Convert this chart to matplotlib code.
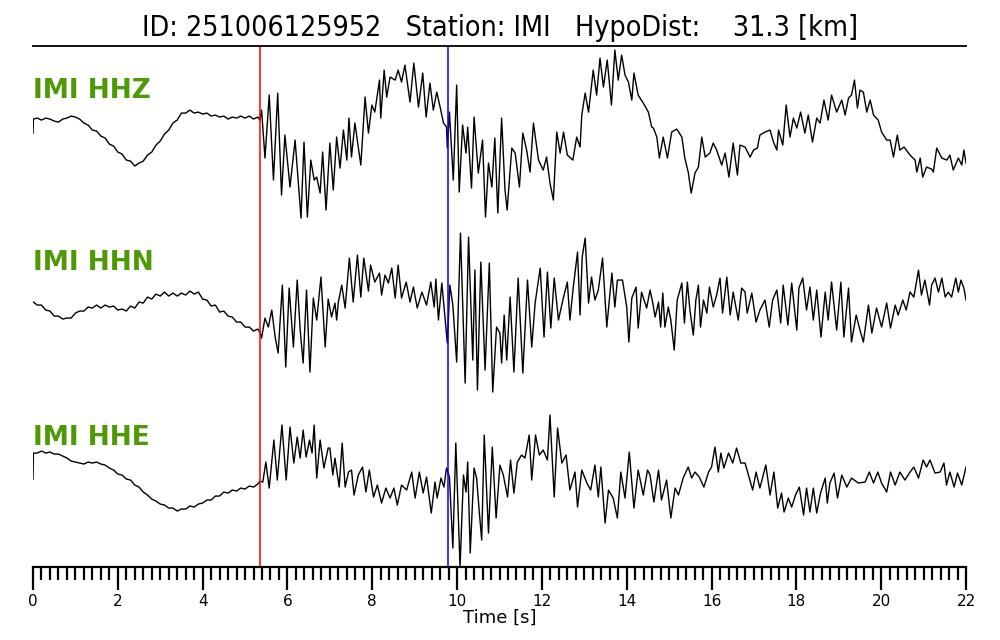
import numpy as np
import matplotlib
matplotlib.use("Agg")
import matplotlib.pyplot as plt

# ---------------- data ----------------
title_text = "ID: 251006125952   Station: IMI   HypoDist:    31.3 [km]"
channels = ["IMI HHZ", "IMI HHN", "IMI HHE"]
p_pick = 5.35
s_pick = 9.79

# pre-P segments, sampled every 0.1 s (amplitude, arbitrary counts)
pre_t = [0.0, 0.01] + [round(0.1 * k, 1) for k in range(1, 54)] + [5.35]
z_pre = [1, 15,
         16, 14, 16, 15, 13, 12, 15, 16, 18, 17,
         15, 11, 9, 4, 3, -2, -4, -10, -12, -18,
         -20, -26, -27, -32, -29, -27, -21, -18, -11, -7,
         0, 4, 11, 14, 21, 21, 24, 21, 22, 20,
         21, 18, 19, 17, 18, 15, 17, 16, 18, 16,
         18, 15, 17, 14]
n_pre = [10, 10,
         7, 7, 2, 1, -4, -4, -7, -6, -6, -1,
         1, 1, 5, 4, 7, 4, 7, 5, 6, 2,
         3, 1, 6, 4, 10, 9, 15, 13, 18, 16,
         20, 16, 19, 16, 19, 17, 21, 18, 20, 13,
         12, 6, 7, 0, 1, -4, -5, -10, -10, -15,
         -15, -19, -17, -20]
e_pre = [4, 30,
         30, 32, 30, 31, 29, 29, 27, 25, 22, 21,
         20, 19, 21, 20, 21, 19, 18, 15, 13, 9,
         8, 4, 3, -2, -4, -9, -12, -16, -18, -21,
         -22, -25, -25, -28, -26, -26, -23, -24, -21, -20,
         -17, -17, -13, -13, -9, -10, -7, -8, -5, -6,
         -3, -4, -1, 2]

# post-P segments: turning points (time s, amplitude)
z_post_t = [5.39, 5.47, 5.57, 5.67, 5.77, 5.86, 5.94, 6.06, 6.18, 6.32, 6.39, 6.47, 6.55, 6.63,
            6.69, 6.77, 6.83, 6.91,
            7.00, 7.08, 7.16, 7.24, 7.32, 7.40, 7.45, 7.51, 7.59, 7.73, 7.83, 7.91, 7.99, 8.06,
            8.17, 8.20, 8.28, 8.34, 8.42, 8.54, 8.61, 8.69, 8.77, 8.89, 8.98, 9.09, 9.19, 9.27,
            9.36, 9.44, 9.52, 9.60, 9.68, 9.75, 9.77, 9.82, 9.91, 9.99, 10.05, 10.13, 10.21,
            10.25, 10.34, 10.40, 10.50, 10.60, 10.67, 10.74, 10.82, 10.89, 10.96, 11.05, 11.13,
            11.18, 11.29, 11.37, 11.47, 11.55, 11.64, 11.72, 11.80, 11.92, 12.03, 12.11, 12.19,
            12.27, 12.35, 12.43, 12.51, 12.60, 12.73, 12.82, 12.90, 12.94, 13.02, 13.10, 13.21,
            13.29, 13.37, 13.45, 13.54, 13.64, 13.72, 13.80, 13.88, 13.96, 14.04, 14.12, 14.17,
            14.27, 14.39, 14.51,
            14.59, 14.63, 14.71, 14.77, 14.86, 14.96, 15.06, 15.18, 15.30, 15.37, 15.45, 15.52,
            15.61, 15.69, 15.77, 15.85, 15.96, 16.04, 16.12, 16.24, 16.32, 16.41, 16.51, 16.61,
            16.67, 16.79, 16.91, 16.99, 17.08, 17.14, 17.26, 17.38, 17.46, 17.54, 17.58, 17.68,
            17.76, 17.85, 17.93, 18.01, 18.10, 18.20, 18.28, 18.38, 18.48, 18.56, 18.65, 18.75,
            18.83, 18.95, 19.07, 19.15, 19.23, 19.30, 19.37, 19.44, 19.50, 19.58, 19.66, 19.74,
            19.82, 19.93, 20.01, 20.13, 20.21, 20.29, 20.38, 20.44, 20.54, 20.68, 20.80, 20.84,
            20.92, 20.98, 21.07, 21.19, 21.23, 21.31, 21.43, 21.55, 21.62, 21.70, 21.82, 21.90,
            21.95, 22.00]
z_post = [24, -24, 39, -46, 41, -61, -1, -53, -6, -84, -8, -83, -26, -46, -43, -59, -18, -76,
          -9, -56, -3, -34, 4, -26, 16, -23, 11, -31, 37, 1, 29, 22, 54, 16, 64, 37, 57, 54, 64,
          52, 69, 32, 71, 27, 61, 17, 51, 24, 42, 27, 11, 7, -14, 22, -46, 49, -58, 9, -19, 7,
          -54, 17, -39, -6, -83, -29, -53, -4, -79, 16, -56, -76, -14, -19, -53, 1, -16, -38,
          11, -26, -36, -23, -49, -66, 2, -19, 2, -21, -26, -3, -13, 19, 41, 22, 64, 39, 76, 47,
          74, 29, 84, 54, 79, 59, 52, 34, 61, 39, 31, 22,
          7, 6, -3, -24, -3, -24, 2, 5, -3, -24, -38, -59, -39, -33, -3, -23, -19, -9, -16, -31,
          -19, -43, -9, -41, -11, -13, -23, -16, -14, -1, 2, 4, -8, -16, 4, -11, 29, -3, 16, 6,
          22, 1, 19, -8, 16, 11, 34, 14, 39, 22, 34, 19, 36, 39, 54, 26, 44, 42, 22, 34, 19, 14,
          2, -6, -6, -23, -1, -16, -13, -21, -26, -38, -24, -43, -33, -35, -38, -14, -24, -26,
          -21, -36, -24, -31, -16, -29]

n_post_t = [5.39, 5.47, 5.55, 5.63, 5.71, 5.78, 5.88, 5.96, 6.04, 6.14, 6.23, 6.30, 6.37, 6.45,
            6.53, 6.61, 6.69, 6.79, 6.89, 6.96, 7.04, 7.12, 7.16, 7.20, 7.28, 7.36, 7.46, 7.55,
            7.65, 7.73, 7.80, 7.91, 7.96, 8.06, 8.17, 8.22, 8.30, 8.38, 8.46, 8.54, 8.61, 8.69,
            8.80, 8.89, 8.97, 9.06, 9.17, 9.28, 9.38, 9.46, 9.50, 9.56, 9.64, 9.72, 9.77, 9.83,
            9.90, 9.99, 10.08, 10.19, 10.27, 10.37, 10.42, 10.48, 10.56, 10.66, 10.76, 10.84,
            10.93, 11.01, 11.05, 11.11, 11.17, 11.25, 11.34, 11.44, 11.55, 11.66, 11.76, 11.84,
            11.96, 12.05, 12.13, 12.21, 12.29, 12.39, 12.51, 12.60, 12.66, 12.74, 12.84, 12.90,
            12.95, 13.02, 13.10, 13.17, 13.25, 13.33, 13.43, 13.53, 13.65, 13.72, 13.78, 13.90,
            14.00, 14.05, 14.12, 14.22, 14.27, 14.35, 14.47,
            14.55, 14.61, 14.67, 14.75, 14.80, 14.85, 14.90, 14.98, 15.04, 15.12, 15.19, 15.30,
            15.36, 15.43, 15.49, 15.57, 15.63, 15.69, 15.74, 15.81, 15.89, 15.95, 16.04, 16.12,
            16.20, 16.26, 16.36, 16.44, 16.51, 16.63, 16.71, 16.79, 16.84, 16.95, 17.05, 17.14,
            17.26, 17.36, 17.44, 17.54, 17.63, 17.69, 17.80, 17.89, 18.01, 18.06, 18.15, 18.24,
            18.32, 18.40, 18.48, 18.58, 18.68, 18.75, 18.83, 18.95, 19.05, 19.12, 19.23, 19.30,
            19.41, 19.50, 19.58, 19.70, 19.78, 19.89, 20.01, 20.13, 20.22, 20.33, 20.40, 20.51,
            20.59, 20.68, 20.77, 20.88, 20.95, 21.03, 21.14, 21.19, 21.27, 21.35, 21.43, 21.51,
            21.58, 21.66, 21.76, 21.82, 21.88, 21.95, 22.00]
n_post = [-26, -6, -15, 2, -25, -41, 27, -55, 24, -35, 32, -18, -51, 22, -60, 14, -8, 35, -35,
          13, -5, 9, -8, 10, 27, 4, 54, 10, 57, 15, 54, 21, 47, 30, 39, 17, 37, 29, 44, 14, 47,
          14, 30, 10, 25, 4, 20, 7, 30, 5, 33, -8, 29, -8, -31, 27, 7, -50, 79, -71, 75, -48,
          42, -78, 50, -58, 49, -80, -15, -21, -51, -3, -48, 15, -60, 34, -61, 32, -35, 9, 44,
          -25, 40, -16, 34, -8, 15, 30, -8, 25, 60, -3, 55, 74, 9, 35, 12, 22, 54, -15, 39, 5,
          32, 32, 5, -30, 14, 25, -16, 20, 4,
          22, 10, -5, 10, -15, 19, -15, 5, -8, -38, 12, 29, -11, 30, 2, -23, 12, 27, -15, 12,
          -1, 25, 5, 17, 34, -1, 35, -3, 20, -8, 24, 20, -1, 19, -10, 2, 12, -15, 12, 22, -11,
          27, -13, 29, -18, 24, 34, 2, 25, -8, 22, -25, 20, -8, 30, -18, 30, -25, 24, -30, -3,
          -18, -30, 7, -21, 4, -15, 9, -16, 7, -3, 12, 2, 20, 15, 42, 17, 32, 7, 27, 34, 20, 34,
          15, 20, 15, 34, 20, 32, 24, 12]

e_post_t = [5.42, 5.49, 5.57, 5.68, 5.76, 5.87, 5.97, 6.06, 6.15, 6.23, 6.30, 6.37, 6.44, 6.52,
            6.58, 6.63, 6.69, 6.77, 6.86, 6.96,
            7.00, 7.07, 7.12, 7.22, 7.29, 7.36, 7.44, 7.51, 7.57, 7.67, 7.77, 7.85, 7.93, 8.03,
            8.12, 8.22, 8.32, 8.42, 8.51, 8.59, 8.69, 8.81, 8.93, 9.01, 9.11, 9.20, 9.28, 9.39,
            9.48, 9.53, 9.62, 9.69, 9.75, 9.82, 9.90, 9.97, 10.07, 10.15, 10.21, 10.25, 10.31,
            10.40, 10.46, 10.52, 10.58, 10.64, 10.74, 10.83, 10.92, 11.01, 11.09, 11.19, 11.26,
            11.34, 11.42, 11.52, 11.60, 11.70, 11.76, 11.85, 11.94, 12.03, 12.13, 12.19, 12.29,
            12.37, 12.47, 12.57, 12.66, 12.78, 12.84, 12.94, 13.06, 13.15, 13.25, 13.33, 13.39,
            13.49, 13.57, 13.68, 13.78, 13.86, 13.96, 14.06, 14.17, 14.27, 14.39, 14.49,
            14.55, 14.64, 14.75, 14.82, 14.94, 15.04, 15.14, 15.22, 15.33, 15.45, 15.53, 15.61,
            15.71, 15.82, 15.93, 16.00, 16.08, 16.16, 16.22, 16.29, 16.40, 16.50, 16.59, 16.69,
            16.79, 16.87, 16.97, 17.05, 17.14, 17.28, 17.38, 17.47, 17.56, 17.65, 17.71, 17.81,
            17.89, 17.98, 18.07, 18.17, 18.24, 18.32, 18.40, 18.48, 18.57, 18.68, 18.73, 18.79,
            18.89, 18.97, 19.07, 19.19, 19.30, 19.46, 19.62, 19.72, 19.82, 19.92, 20.01, 20.13,
            20.22, 20.33, 20.44, 20.56, 20.68, 20.77, 20.88, 20.99, 21.07, 21.15, 21.27, 21.39,
            21.48, 21.54, 21.62, 21.72, 21.80, 21.90, 22.00]
e_post = [1, 21, -5, 43, 3, 58, 3, 56, 20, 46, 25, 53, 26, 43, 30, 58, 5, 43, 15, 35,
          35, 8, 25, -4, 40, -4, 11, 13, -12, 8, 16, -9, 13, -14, -2, -20, -5, -15, -5, -22, -2,
          -7, 11, -15, 11, -10, 6, -30, 1, -15, 5, -4, 15, 6, -65, 40, -84, 8, -9, 21, -70, 15,
          5, -27, -57, 48, -50, 36, -35, 18, 8, -14, 23, -10, 21, 28, 25, 48, 3, 48, 28, 33, 23,
          68, -14, 55, 20, 28, -7, 11, -24, 13, 0, -7, 18, -14, 16, -40, -7, -15, -35, 11, -15,
          31, -25, 13, -12, 13,
          8, -19, 13, -17, 3, -35, -5, -12, 5, 16, 5, 11, 6, -4, 11, 16, 36, 11, 30, 15, 30, 20,
          35, 20, 20, 8, -7, 11, -5, 18, -12, 11, -25, -10, -29, -15, -24, -12, -4, -32, -5, -29,
          -5, -30, -10, 5, -20, 0, 10, -15, 8, -4, 5, 0, 1, 11, 0, 11, 0, -9, 11, -2, 11, 3, 11,
          16, 5, 23, 16, 23, 10, 11, 20, -2, 11, -4, 10, -2, 16]

# ---------------- figure ----------------
fig = plt.figure(figsize=(10, 6.4), dpi=100)
ax = fig.add_axes([0.033, 0.114, 0.933, 0.814])

offsets = [433, 255, 84]
label_dy = [43, 49, 45]
pres = [z_pre, n_pre, e_pre]
posts_t = [z_post_t, n_post_t, e_post_t]
posts = [z_post, n_post, e_post]
green = "#4E9A06"

for name, off, ldy, pre, pt, pv in zip(channels, offsets, label_dy, pres, posts_t, posts):
    t = np.array(pre_t + pt)
    v = np.array(pre + pv, dtype=float)
    ax.plot(t, v + off, color="black", lw=1.0)
    ax.text(0.0, off + ldy, name, color=green, fontsize=19, fontweight="bold",
            va="center", ha="left")

ax.axvline(p_pick, color="red", lw=1.1)
ax.axvline(s_pick, color="blue", lw=1.1)

ax.set_xlim(0, 22)
ax.set_ylim(0, 521)
ax.spines["left"].set_visible(False)
ax.spines["right"].set_visible(False)
ax.spines["top"].set_linewidth(1.3)
ax.spines["bottom"].set_linewidth(1.6)
ax.set_yticks([])
ax.set_xticks(np.arange(0, 23, 2))
ax.set_xticks(np.arange(0, 22.01, 0.2), minor=True)
ax.tick_params(axis="x", which="major", length=16.5, width=1.6, labelsize=11, pad=3)
ax.tick_params(axis="x", which="minor", length=9.5, width=1.6)
ax.set_xlabel("Time [s]", fontsize=13, labelpad=0)
fig.text(0.5, 0.957, title_text, ha="center", va="center", fontsize=20.5,
         fontstretch="condensed")

fig.savefig("out.png", dpi=100)
